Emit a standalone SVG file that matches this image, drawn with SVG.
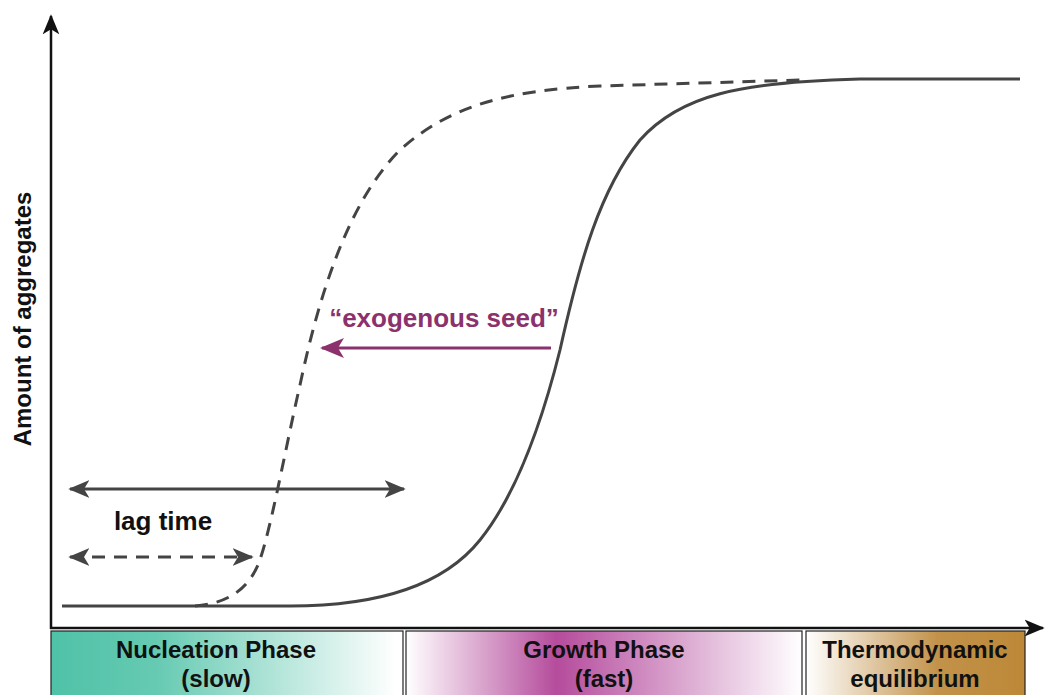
<svg xmlns="http://www.w3.org/2000/svg" width="1045" height="695" viewBox="0 0 1045 695">
<style>
.curve{fill:none;stroke:#444;stroke-width:3;stroke-linecap:butt}
.dash{stroke-dasharray:13 9}
.axis{fill:none;stroke:#111;stroke-width:2.5}
.box{stroke:#222;stroke-width:1.2}
.lbl{font-family:"Liberation Sans",Arial,sans-serif;font-weight:bold;fill:#111;text-anchor:middle}
</style>
<defs>
<marker id="ah" viewBox="0 0 12 10" refX="11" refY="5" markerWidth="7" markerHeight="6" markerUnits="strokeWidth" orient="auto-start-reverse">
<path d="M0,0 L12,5 L0,10 L3,5 z" fill="#444"/>
</marker>
<marker id="ahm" viewBox="0 0 12 10" refX="11" refY="5" markerWidth="8" markerHeight="7" markerUnits="strokeWidth" orient="auto-start-reverse">
<path d="M0,0 L12,5 L0,10 L3,5 z" fill="#8b326d"/>
</marker>
<marker id="axh" viewBox="0 0 12 10" refX="11" refY="5" markerWidth="8" markerHeight="9" markerUnits="strokeWidth" orient="auto">
<path d="M0,0 L12,5 L0,10 L3,5 z" fill="#111"/>
</marker>
<linearGradient id="gN" x1="0" x2="1" y1="0" y2="0">
<stop offset="0" stop-color="#4fc2a7"/>
<stop offset="0.3" stop-color="#66cab2"/>
<stop offset="0.98" stop-color="#ffffff"/>
</linearGradient>
<linearGradient id="gG" x1="0" x2="1" y1="0" y2="0">
<stop offset="0" stop-color="#ffffff"/>
<stop offset="0.38" stop-color="#b54c9c"/>
<stop offset="0.6" stop-color="#cf8bc0"/>
<stop offset="1" stop-color="#ffffff"/>
</linearGradient>
<linearGradient id="gT" x1="0" x2="1" y1="0" y2="0">
<stop offset="0" stop-color="#ffffff"/>
<stop offset="0.6" stop-color="#c2924a"/>
<stop offset="1" stop-color="#bd8837"/>
</linearGradient>
</defs>

<g id="phases">
<g id="nucleation">
<rect class="box" x="51" y="631" width="352" height="70" fill="url(#gN)"/>
<text class="lbl" x="216" y="658" font-size="24">Nucleation Phase</text>
<text class="lbl" x="216" y="687" font-size="24">(slow)</text>
</g>
<g id="growth">
<rect class="box" x="406" y="631" width="396" height="70" fill="url(#gG)"/>
<text class="lbl" x="604" y="658" font-size="24">Growth Phase</text>
<text class="lbl" x="604" y="687" font-size="24">(fast)</text>
</g>
<g id="thermo">
<rect class="box" x="806" y="631" width="219" height="70" fill="url(#gT)"/>
<text class="lbl" x="915" y="658" font-size="24">Thermodynamic</text>
<text class="lbl" x="915" y="687" font-size="24">equilibrium</text>
</g>
</g>

<g id="axes">
<line class="axis" x1="51" y1="629" x2="51" y2="16" marker-end="url(#axh)"/>
<line class="axis" x1="50" y1="628" x2="1043" y2="628" marker-end="url(#axh)"/>
<text class="lbl" transform="translate(31,319) rotate(-90)" font-size="24">Amount of aggregates</text>
</g>

<g id="connectors">
<path id="solid-curve" class="curve" d="M62,606 L290,606 C370,606 440,590 480,540 C520,490 545,410 560,350 C580,260 600,190 640,140 C680,95 740,82 860,79 L1020,79"/>
<path id="seeded-curve" class="curve dash" d="M195,606 C220,604 245,595 258,565 C270,535 285,450 300,385 C320,290 350,200 400,150 C450,105 510,90 600,86 L800,80"/>
<line id="lag-solid" x1="70" y1="489" x2="404" y2="489" stroke="#444" stroke-width="3" marker-start="url(#ah)" marker-end="url(#ah)"/>
<line id="lag-dashed" x1="70" y1="557" x2="252" y2="557" stroke="#444" stroke-width="3" stroke-dasharray="13 9" marker-start="url(#ah)" marker-end="url(#ah)"/>
<line id="seed-arrow" x1="551" y1="348" x2="322" y2="348" stroke="#8b326d" stroke-width="3" marker-end="url(#ahm)"/>
</g>

<g id="labels">
<text class="lbl" x="163" y="530" font-size="26">lag time</text>
<text x="444" y="327" font-family="'Liberation Sans',Arial,sans-serif" font-weight="bold" font-size="26" fill="#8b326d" text-anchor="middle">“exogenous seed”</text>
</g>
</svg>
